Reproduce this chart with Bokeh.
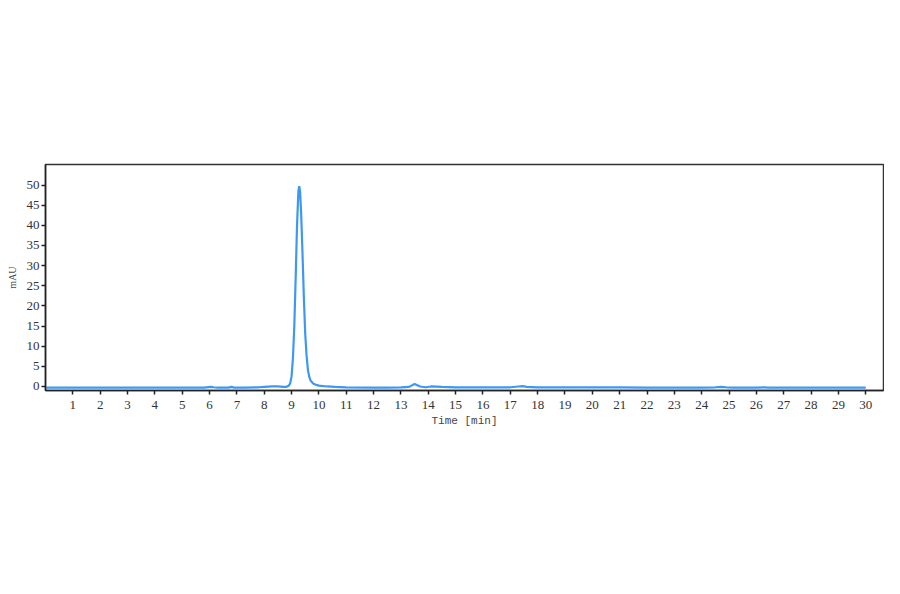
from bokeh.plotting import figure
from bokeh.models import Range1d, FixedTicker, ColumnDataSource
from bokeh.embed import file_html
from bokeh.resources import INLINE

# Chromatogram trace
time_min = [0.0, 1.0, 2.0, 3.0, 4.0, 5.0, 5.8, 6.05, 6.15, 6.3, 6.7, 6.8, 6.9, 7.3, 7.8,
            8.0, 8.3, 8.5, 8.7, 8.8, 8.9, 8.95, 9.0, 9.05, 9.1, 9.15, 9.2, 9.25, 9.28,
            9.31, 9.35, 9.4, 9.45, 9.5, 9.55, 9.6, 9.65, 9.7, 9.8, 9.9, 10.0, 10.3,
            10.6, 11.0, 12.0, 12.5, 13.0, 13.3, 13.5, 13.7, 13.9, 14.1, 14.5, 15.0,
            16.0, 17.0, 17.3, 17.45, 17.6, 18.0, 19.0, 20.0, 21.0, 22.0, 23.0, 24.0,
            24.5, 24.7, 24.9, 25.2, 26.0, 26.3, 26.4, 27.0, 28.0, 29.0, 30.0]
absorbance_mau = [-0.3, -0.3, -0.3, -0.3, -0.3, -0.3, -0.3, -0.1, -0.2, -0.3, -0.3, -0.1, -0.3, -0.3, -0.2,
                  -0.1, 0.0, 0.0, -0.1, -0.1, 0.2, 0.8, 2.5, 7.0, 15.0, 27.0, 40.0, 48.5, 49.7,
                  48.5, 43.0, 33.0, 22.0, 13.0, 7.5, 4.0, 2.3, 1.4, 0.7, 0.4, 0.2, 0.0,
                  -0.1, -0.2, -0.3, -0.3, -0.2, -0.1, 0.6, 0.0, -0.2, 0.0, -0.1, -0.2,
                  -0.2, -0.2, 0.0, 0.1, -0.1, -0.2, -0.2, -0.2, -0.2, -0.3, -0.3, -0.3,
                  -0.2, -0.1, -0.2, -0.3, -0.3, -0.2, -0.3, -0.3, -0.3, -0.3, -0.3]

x_ticks = list(range(1, 31))
y_ticks = list(range(0, 51, 5))

src = ColumnDataSource(data=dict(t=time_min, a=absorbance_mau))

p = figure(width=884, height=578, output_backend="svg", toolbar_location=None,
           x_range=Range1d(0, 30.65), y_range=Range1d(-1.0, 55.1),
           min_border_left=45, min_border_right=1, min_border_top=164, min_border_bottom=188)

p.line("t", "a", source=src, line_color="#3d97f5", line_width=2.2)

p.xgrid.visible = False
p.ygrid.visible = False
p.background_fill_color = "white"
p.border_fill_color = "white"
p.outline_line_color = "#333333"
p.outline_line_width = 1.5
p.outline_line_alpha = 1.0

for ax in (p.xaxis, p.yaxis):
    ax.axis_line_color = "#222222"
    ax.axis_line_width = 1.5
    ax.major_tick_line_color = "#222222"
    ax.major_tick_line_width = 1.5
    ax.major_tick_in = 0
    ax.major_tick_out = 4
    ax.minor_tick_line_color = None
    ax.major_label_text_font = "Liberation Serif"
    ax.major_label_text_font_size = "13px"
    ax.major_label_text_color = "#333333"
    ax.axis_label_text_font_style = "normal"
    ax.axis_label_text_color = "#444444"

p.xaxis.ticker = FixedTicker(ticks=x_ticks)
p.yaxis.ticker = FixedTicker(ticks=y_ticks)
p.xaxis.major_label_standoff = 6
p.yaxis.major_label_standoff = 2

p.xaxis.axis_label = "Time [min]"
p.xaxis.axis_label_text_font = "Liberation Mono"
p.xaxis.axis_label_text_font_size = "11px"
p.xaxis.axis_label_standoff = 3

p.yaxis.axis_label = "mAU"
p.yaxis.axis_label_text_font = "Liberation Serif"
p.yaxis.axis_label_text_font_size = "10px"
p.yaxis.axis_label_standoff = 6

open("out.html", "w").write(file_html(p, INLINE))
